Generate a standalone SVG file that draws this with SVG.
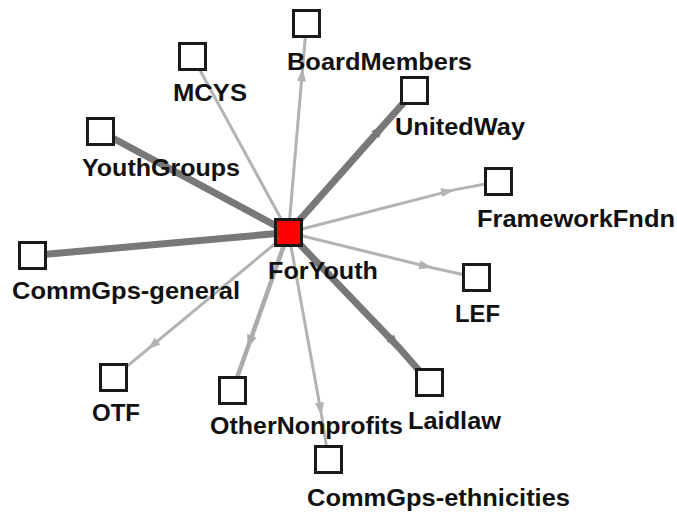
<svg xmlns="http://www.w3.org/2000/svg" width="677" height="512" viewBox="0 0 677 512">
<defs>
<style>
.box{fill:#fff;stroke:#1a1a1a;stroke-width:3}
.hub{fill:#ff0000;stroke:#1a1a1a;stroke-width:3}
.lbl{font-family:"Liberation Sans",Arial,sans-serif;font-weight:bold;font-size:23px;fill:#111}
.lt{fill:none;stroke:#b3b3b3;stroke-width:3;marker-mid:url(#arrL)}
.md{fill:none;stroke:#ababab;stroke-width:4.5;marker-mid:url(#arrM)}
.dk{fill:none;stroke:#787878;stroke-width:7;marker-mid:url(#arrD)}
</style>
<marker id="arrL" markerUnits="userSpaceOnUse" viewBox="-14 -6 16 12" refX="0" refY="0" markerWidth="16" markerHeight="12" orient="auto">
<path d="M0,0 L-13,-4.5 L-13,4.5 Z" fill="#b3b3b3"/>
</marker>
<marker id="arrM" markerUnits="userSpaceOnUse" viewBox="-14 -6 16 12" refX="0" refY="0" markerWidth="16" markerHeight="12" orient="auto">
<path d="M0,0 L-13,-5 L-13,5 Z" fill="#ababab"/>
</marker>
<marker id="arrD" markerUnits="userSpaceOnUse" viewBox="-16 -8 18 16" refX="0" refY="0" markerWidth="18" markerHeight="16" orient="auto">
<path d="M0,0 L-14,-5 L-14,5 Z" fill="#787878"/>
</marker>
</defs>
<rect width="677" height="512" fill="#fff"/>
<g id="connectors">
<polyline class="lt" points="288.5,232.5 192.5,56.5 192.5,56.5"/>
<polyline class="lt" points="288.5,232.5 302.6,68.3 306.5,23.5"/>
<polyline class="lt" points="288.5,232.5 454.1,189.9 498.5,181.5"/>
<polyline class="lt" points="288.5,232.5 432.2,267.7 476.5,277.5"/>
<polyline class="lt" points="288.5,232.5 147.5,349.4 113.5,377.5"/>
<polyline class="md" points="288.5,232.5 247.6,348.0 232.5,390.5"/>
<polyline class="lt" points="288.5,232.5 321.6,415.5 328.5,459.5"/>
<polyline class="dk" points="288.5,232.5 100.5,131.5"/>
<polyline class="dk" points="288.5,232.5 32.5,255.5"/>
<polyline class="dk" points="288.5,232.5 384.6,124.1 414.5,90.5"/>
<polyline class="dk" points="288.5,232.5 399.6,348.3 429.5,382.5"/>
</g>
<g id="node-ForYouth"><rect class="hub" x="275.5" y="219.5" width="26" height="26"/><text class="lbl" x="268" y="279" textLength="110" lengthAdjust="spacingAndGlyphs">ForYouth</text></g>
<g id="node-BoardMembers"><rect class="box" x="293.5" y="10.5" width="26" height="26"/><text class="lbl" x="287" y="70" textLength="185" lengthAdjust="spacingAndGlyphs">BoardMembers</text></g>
<g id="node-MCYS"><rect class="box" x="179.5" y="43.5" width="26" height="26"/><text class="lbl" x="173" y="101" textLength="74" lengthAdjust="spacingAndGlyphs">MCYS</text></g>
<g id="node-YouthGroups"><rect class="box" x="87.5" y="118.5" width="26" height="26"/><text class="lbl" x="82" y="176" textLength="158" lengthAdjust="spacingAndGlyphs">YouthGroups</text></g>
<g id="node-UnitedWay"><rect class="box" x="401.5" y="77.5" width="26" height="26"/><text class="lbl" x="395" y="135" textLength="130" lengthAdjust="spacingAndGlyphs">UnitedWay</text></g>
<g id="node-FrameworkFndn"><rect class="box" x="485.5" y="168.5" width="26" height="26"/><text class="lbl" x="477" y="227" textLength="198" lengthAdjust="spacingAndGlyphs">FrameworkFndn</text></g>
<g id="node-CommGps-general"><rect class="box" x="19.5" y="242.5" width="26" height="26"/><text class="lbl" x="12" y="299" textLength="228" lengthAdjust="spacingAndGlyphs">CommGps-general</text></g>
<g id="node-LEF"><rect class="box" x="463.5" y="264.5" width="26" height="26"/><text class="lbl" x="455" y="322" textLength="45" lengthAdjust="spacingAndGlyphs">LEF</text></g>
<g id="node-OTF"><rect class="box" x="100.5" y="364.5" width="26" height="26"/><text class="lbl" x="92" y="421" textLength="48" lengthAdjust="spacingAndGlyphs">OTF</text></g>
<g id="node-OtherNonprofits"><rect class="box" x="219.5" y="377.5" width="26" height="26"/><text class="lbl" x="210" y="434" textLength="193" lengthAdjust="spacingAndGlyphs">OtherNonprofits</text></g>
<g id="node-Laidlaw"><rect class="box" x="416.5" y="369.5" width="26" height="26"/><text class="lbl" x="408" y="429" textLength="93" lengthAdjust="spacingAndGlyphs">Laidlaw</text></g>
<g id="node-CommGps-ethnicities"><rect class="box" x="315.5" y="446.5" width="26" height="26"/><text class="lbl" x="307" y="506" textLength="263" lengthAdjust="spacingAndGlyphs">CommGps-ethnicities</text></g>
</svg>
